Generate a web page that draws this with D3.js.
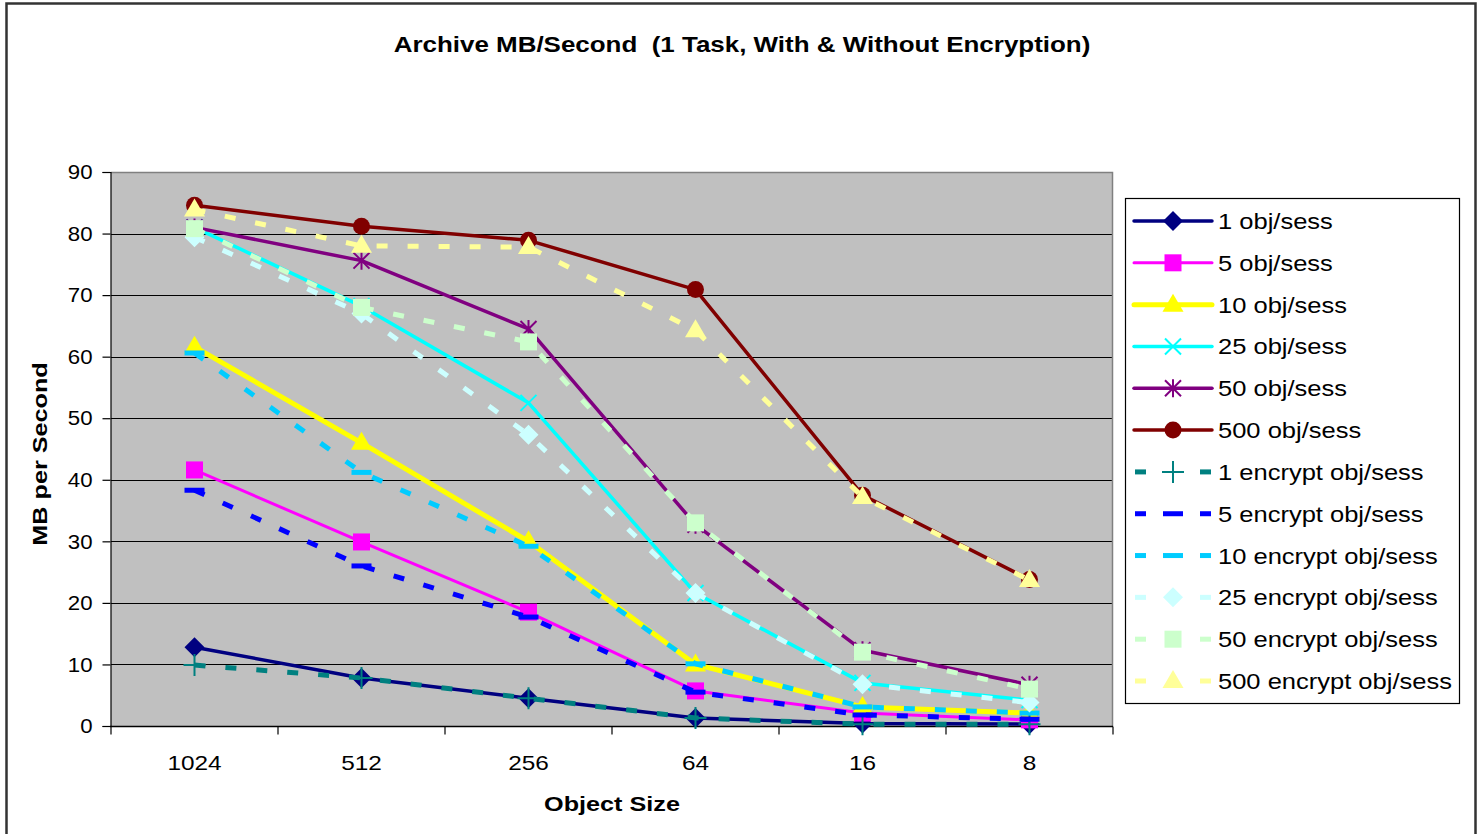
<!DOCTYPE html>
<html>
<head>
<meta charset="utf-8">
<script src="https://cdn.jsdelivr.net/npm/d3@7"></script>
<style>
  body { margin: 0; background: #fff; }
  text { font-family: "Liberation Sans", Arial, sans-serif; }
</style>
</head>
<body>
<div class="chart"></div>
<script>
const categories = ["1024", "512", "256", "64", "16", "8"];
const yTicks = [0, 10, 20, 30, 40, 50, 60, 70, 80, 90];

const seriesNames = [
  "1 obj/sess", "5 obj/sess", "10 obj/sess", "25 obj/sess", "50 obj/sess", "500 obj/sess",
  "1 encrypt obj/sess", "5 encrypt obj/sess", "10 encrypt obj/sess",
  "25 encrypt obj/sess", "50 encrypt obj/sess", "500 encrypt obj/sess"
];

const obj1 = [12.8, 7.8, 4.5, 1.3, 0.4, 0.3];
const obj5 = [41.6, 29.9, 18.5, 5.7, 2.1, 1.0];
const obj10 = [61.6, 46.0, 30.0, 10.0, 3.1, 2.1];
const obj25 = [81.0, 68.2, 52.5, 21.6, 7.0, 4.2];
const obj50 = [81.0, 75.6, 64.5, 32.7, 12.3, 6.7];
const obj500 = [84.6, 81.2, 78.9, 70.9, 37.5, 23.8];
const enc1 = [9.9, 7.8, 4.5, 1.3, 0.3, 0.3];
const enc5 = [38.3, 26.0, 17.7, 5.5, 1.8, 1.1];
const enc10 = [60.6, 41.2, 29.2, 10.1, 3.1, 2.1];
const enc25 = [79.4, 67.0, 47.3, 21.6, 6.8, 3.8];
const enc50 = [80.8, 68.0, 62.4, 33.0, 12.0, 6.0];
const enc500 = [83.9, 78.0, 77.8, 64.3, 37.2, 23.7];

const seriesValues = [obj1, obj5, obj10, obj25, obj50, obj500, enc1, enc5, enc10, enc25, enc50, enc500];

const styles = [
  {color: "#000080", width: 3.5, dash: null, marker: "diamond", mcolor: "#000080"},
  {color: "#FF00FF", width: 3, dash: null, marker: "square", mcolor: "#FF00FF"},
  {color: "#FFFF00", width: 5, dash: null, marker: "triangle", mcolor: "#FFFF00"},
  {color: "#00FFFF", width: 3.5, dash: null, marker: "x", mcolor: "#00FFFF"},
  {color: "#800080", width: 3.5, dash: null, marker: "star", mcolor: "#800080"},
  {color: "#800000", width: 3.5, dash: null, marker: "circle", mcolor: "#800000"},
  {color: "#008080", width: 5, dash: "11,20", marker: "plus", mcolor: "#008080"},
  {color: "#0000FF", width: 5, dash: "11,20", marker: "dash", mcolor: "#0000FF"},
  {color: "#00CCFF", width: 5, dash: "11,20", marker: "dash", mcolor: "#00CCFF"},
  {color: "#CCFFFF", width: 5, dash: "11,20", marker: "diamond", mcolor: "#CCFFFF"},
  {color: "#CCFFCC", width: 5, dash: "11,20", marker: "square", mcolor: "#CCFFCC"},
  {color: "#FFFF99", width: 5, dash: "11,20", marker: "triangle", mcolor: "#FFFF99"}
];

const W = 1481, H = 834;
const plot = {left: 111, right: 1113, top: 172, bottom: 726};

const svg = d3.select(".chart").append("svg")
  .attr("width", W).attr("height", H);

// outer chart border (no bottom edge visible)
svg.append("path")
  .attr("d", `M6.5,${H + 5} V3.5 H1475.5 V${H + 5}`)
  .attr("fill", "none").attr("stroke", "#333").attr("stroke-width", 2.5);

// the original text is drawn a bit wider than Liberation Sans, so stretch it
function wideText(x, y, sx, txt) {
  return svg.append("text")
    .attr("transform", `translate(${x},${y}) scale(${sx},1)`)
    .text(txt);
}

wideText(742, 52, 1.18, "Archive MB/Second  (1 Task, With & Without Encryption)")
  .style("white-space", "pre")
  .attr("text-anchor", "middle")
  .attr("font-size", 22).attr("font-weight", "bold");

const x = d3.scaleBand().domain(categories).range([plot.left, plot.right]);
const y = d3.scaleLinear().domain([0, 90]).range([plot.bottom, plot.top]);

// plot background
svg.append("rect")
  .attr("x", plot.left).attr("y", plot.top)
  .attr("width", plot.right - plot.left).attr("height", plot.bottom - plot.top)
  .attr("fill", "#C0C0C0");

// gridlines
svg.append("g").selectAll("line")
  .data(yTicks.filter(d => d > 0 && d < 90))
  .join("line")
  .attr("x1", plot.left).attr("x2", plot.right)
  .attr("y1", d => Math.round(y(d)) + 0.5).attr("y2", d => Math.round(y(d)) + 0.5)
  .attr("stroke", "#000").attr("stroke-width", 1.2);

// plot border top and right
svg.append("path")
  .attr("d", `M${plot.left},${plot.top + 0.5} H${plot.right - 0.5} V${plot.bottom}`)
  .attr("fill", "none").attr("stroke", "#808080").attr("stroke-width", 1.5);

// y axis
const yAxis = d3.axisLeft(y).tickValues(yTicks).tickSize(8).tickPadding(10);
svg.append("g")
  .attr("transform", `translate(${plot.left - 0.5},0)`)
  .call(yAxis)
  .call(g => g.selectAll("text").attr("font-size", 21).attr("fill", "#000")
    .attr("font-family", "Liberation Sans, Arial, sans-serif")
    .attr("x", -18 / 1.06).attr("transform", "scale(1.06,1)"))
  .call(g => g.selectAll("line, path").attr("stroke", "#000").attr("stroke-width", 1.2));

// x axis: ticks at band boundaries
const xAxisG = svg.append("g")
  .attr("transform", `translate(0,${plot.bottom + 0.5})`);
xAxisG.append("line")
  .attr("x1", plot.left - 1).attr("x2", plot.right)
  .attr("stroke", "#000").attr("stroke-width", 1.5);
const bounds = categories.map(c => x(c)).concat([x(categories[categories.length - 1]) + x.bandwidth()]);
xAxisG.selectAll(".tk").data(bounds).join("line")
  .attr("x1", d => d).attr("x2", d => d)
  .attr("y1", 0).attr("y2", 8)
  .attr("stroke", "#000").attr("stroke-width", 1.2);
xAxisG.selectAll(".lbl").data(categories).join("text")
  .attr("transform", d => `translate(${x(d) + x.bandwidth() / 2},43) scale(1.16,1)`)
  .attr("text-anchor", "middle")
  .attr("font-size", 21)
  .text(d => d);

wideText(612, 811, 1.2, "Object Size")
  .attr("text-anchor", "middle")
  .attr("font-size", 21).attr("font-weight", "bold");

svg.append("text")
  .attr("transform", "translate(47,454) rotate(-90) scale(1.2,1)")
  .attr("text-anchor", "middle")
  .attr("font-size", 21).attr("font-weight", "bold")
  .text("MB per Second");

function drawMarker(g, type, color) {
  switch (type) {
    case "diamond":
      g.append("path").attr("d", "M0,-10 L10,0 L0,10 L-10,0 Z").attr("fill", color);
      break;
    case "square":
      g.append("rect").attr("x", -8.5).attr("y", -8.5).attr("width", 17).attr("height", 17).attr("fill", color);
      break;
    case "triangle":
      g.append("path").attr("d", "M0,-11 L10.5,7 L-10.5,7 Z").attr("fill", color);
      break;
    case "circle":
      g.append("circle").attr("r", 8.5).attr("fill", color);
      break;
    case "x":
      g.append("path").attr("d", "M-8,-8 L8,8 M8,-8 L-8,8")
        .attr("stroke", color).attr("stroke-width", 2).attr("fill", "none");
      break;
    case "star":
      g.append("path").attr("d", "M-8,-8 L8,8 M8,-8 L-8,8 M0,-9 L0,9")
        .attr("stroke", color).attr("stroke-width", 2).attr("fill", "none");
      break;
    case "plus":
      g.append("path").attr("d", "M-11,0 L11,0 M0,-11 L0,11")
        .attr("stroke", color).attr("stroke-width", 2).attr("fill", "none");
      break;
    case "dash":
      g.append("rect").attr("x", -10).attr("y", -2.5).attr("width", 20).attr("height", 5).attr("fill", color);
      break;
  }
}

const line = d3.line()
  .x((d, i) => x(categories[i]) + x.bandwidth() / 2)
  .y(d => y(d));

const seriesG = svg.append("g").selectAll("g")
  .data(seriesValues)
  .join("g");

seriesG.append("path")
  .attr("d", d => line(d))
  .attr("fill", "none")
  .attr("stroke", (d, i) => styles[i].color)
  .attr("stroke-width", (d, i) => styles[i].width)
  .attr("stroke-dasharray", (d, i) => styles[i].dash)
  .attr("stroke-linejoin", "round");

seriesG.each(function(vals, si) {
  const g = d3.select(this);
  vals.forEach((v, i) => {
    const m = g.append("g")
      .attr("transform", `translate(${x(categories[i]) + x.bandwidth() / 2},${y(v)})`);
    drawMarker(m, styles[si].marker, styles[si].mcolor);
  });
});

// legend
const legend = svg.append("g");
legend.append("rect")
  .attr("x", 1125.5).attr("y", 198.5)
  .attr("width", 334).attr("height", 505)
  .attr("fill", "#fff").attr("stroke", "#000").attr("stroke-width", 1.2);

const legendY = d3.scaleLinear().domain([0, 11]).range([221, 681]);

seriesNames.forEach((name, i) => {
  const st = styles[i];
  const ly = legendY(i);
  const g = legend.append("g").attr("transform", `translate(0,${ly})`);
  if (st.dash) {
    g.append("rect").attr("x", 1135).attr("y", -2.5).attr("width", 11).attr("height", 5).attr("fill", st.color);
    g.append("rect").attr("x", 1200).attr("y", -2.5).attr("width", 11).attr("height", 5).attr("fill", st.color);
  } else {
    g.append("line").attr("x1", 1134).attr("x2", 1212)
      .attr("stroke", st.color).attr("stroke-width", st.width)
      .attr("stroke-linecap", "round");
  }
  const m = g.append("g").attr("transform", "translate(1173,0)");
  drawMarker(m, st.marker, st.mcolor);
  g.append("text")
    .attr("transform", "translate(1218,8) scale(1.16,1)")
    .attr("font-size", 22)
    .text(name);
});
</script>
</body>
</html>
